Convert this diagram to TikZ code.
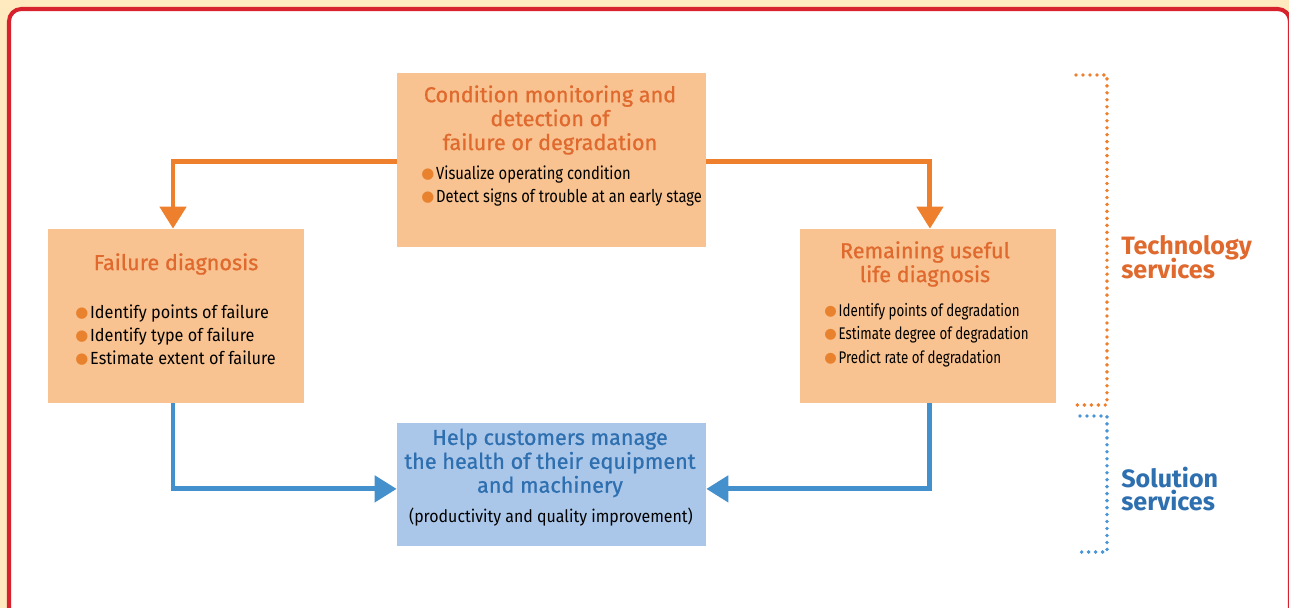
\documentclass[tikz,border=0pt]{standalone}
\usepackage{fontspec}
\usepackage{graphicx}
\setmainfont{Fira Sans}
\newfontfamily\titlefont{Fira Sans}[FakeBold=0.8]
\newfontfamily\narrowfont{Fira Sans}[FakeStretch=0.925]
\newfontfamily\tightfont{Fira Sans}[FakeStretch=0.79]
\newfontfamily\midfont{Fira Sans}[FakeStretch=0.84]
\newfontfamily\symfont{DejaVu Sans}
\usetikzlibrary{arrows.meta}
\definecolor{cream}{HTML}{FFE9BF}
\definecolor{framered}{HTML}{D7222E}
\definecolor{boxorange}{HTML}{F8C391}
\definecolor{titleorange}{HTML}{E0692E}
\definecolor{arroworange}{HTML}{EE7F2D}
\definecolor{dotorange}{HTML}{E8822E}
\definecolor{boxblue}{HTML}{AAC7E9}
\definecolor{arrowblue}{HTML}{4490CD}
\definecolor{titleblue}{HTML}{2E6FB0}
\definecolor{bracketblue}{HTML}{4A95D6}
\def\bul{{\color{dotorange}\raisebox{0.5pt}{\scalebox{0.85}{\symfont ●}}}\hspace{1pt}}

\begin{document}
\begin{tikzpicture}[x=0.02cm, y=-0.02cm,
    box/.style={rectangle, fill=boxorange, inner sep=0, minimum width=5.12cm, minimum height=3.48cm},
    title/.style={align=center, inner sep=0, text=titleorange, font=\titlefont\fontsize{12.3}{13.6}\selectfont},
    items/.style={align=left, inner sep=0, anchor=west, font=\narrowfont\fontsize{10}{13.3}\selectfont},
    link/.style={line width=2.8pt, -{Triangle[width=14.7pt, length=12.5pt]}},
    bracket/.style={line width=2.2pt, line cap=round, dash pattern=on 0pt off 3.97pt},
    side/.style={align=left, inner sep=0, anchor=west, font={\bfseries\fontsize{14.3}{13.4}\selectfont\lineskiplimit=-10pt}}]
  \useasboundingbox (0,0) rectangle (1289,608);
  \fill[cream] (0,0) rectangle (1289,608);
  \begin{scope}
    \clip (0,0) rectangle (1289,608);
    \draw[framered, line width=2.3pt, fill=white, rounded corners=7pt] (9,9) rectangle (1290,640);
  \end{scope}
  % boxes
  \node[box, minimum width=6.18cm] (cond) at (551.5,160) {};
  \node[box] (fail) at (176,316) {};
  \node[box] (rul) at (928,316) {};
  \node[box, fill=boxblue, minimum width=6.18cm, minimum height=2.46cm] (help) at (551.5,484.5) {};
  % texts
  \node[title] (condtitle) at (550,120) {Condition monitoring and\\detection of\\failure or degradation};
  \node[items, font=\midfont\fontsize{10}{13.3}\selectfont] (conditems) at (421,186) {\bul Visualize operating condition\\\bul Detect signs of trouble at an early stage};
  \node[title] (failtitle) at (176,264) {Failure diagnosis};
  \node[items] (failitems) at (75,335) {\bul Identify points of failure\\\bul Identify type of failure\\\bul Estimate extent of failure};
  \node[title] (rultitle) at (925,264) {Remaining useful\\life diagnosis};
  \node[items, font=\tightfont\fontsize{9.6}{13.3}\selectfont] (rulitems) at (824,335) {\bul Identify points of degradation\\\bul Estimate degree of degradation\\\bul Predict rate of degradation};
  \node[title, text=titleblue] (helptitle) at (550,463) {Help customers manage\\the health of their equipment\\and machinery};
  \node[inner sep=0, font=\narrowfont\fontsize{9.8}{11}\selectfont] (helpnote) at (551,517) {(productivity and quality improvement)};
  % arrows
  \draw[link, arroworange] ([yshift=-1pt]cond.west) -| ([xshift=-1.7pt]fail.north);
  \draw[link, arroworange] ([yshift=-1pt]cond.east) -| ([xshift=1.1pt]rul.north);
  \draw[link, arrowblue] ([xshift=-1.7pt]fail.south) |- ([yshift=-2.5pt]help.west);
  \draw[link, arrowblue] ([xshift=1.1pt]rul.south) |- ([yshift=-2.5pt]help.east);
  % brackets
  \draw[bracket, arroworange] (1076,75) -- (1107,75) -- (1107,405) -- (1077,405);
  \draw[bracket, bracketblue] (1080,416) -- (1107,416) -- (1107,552) -- (1077,552);
  \node[side, text=titleorange] (tech) at (1121,257) {Technology\\services};
  \node[side, text=titleblue] (sol) at (1121,489) {Solution\\services};
\end{tikzpicture}
\end{document}
